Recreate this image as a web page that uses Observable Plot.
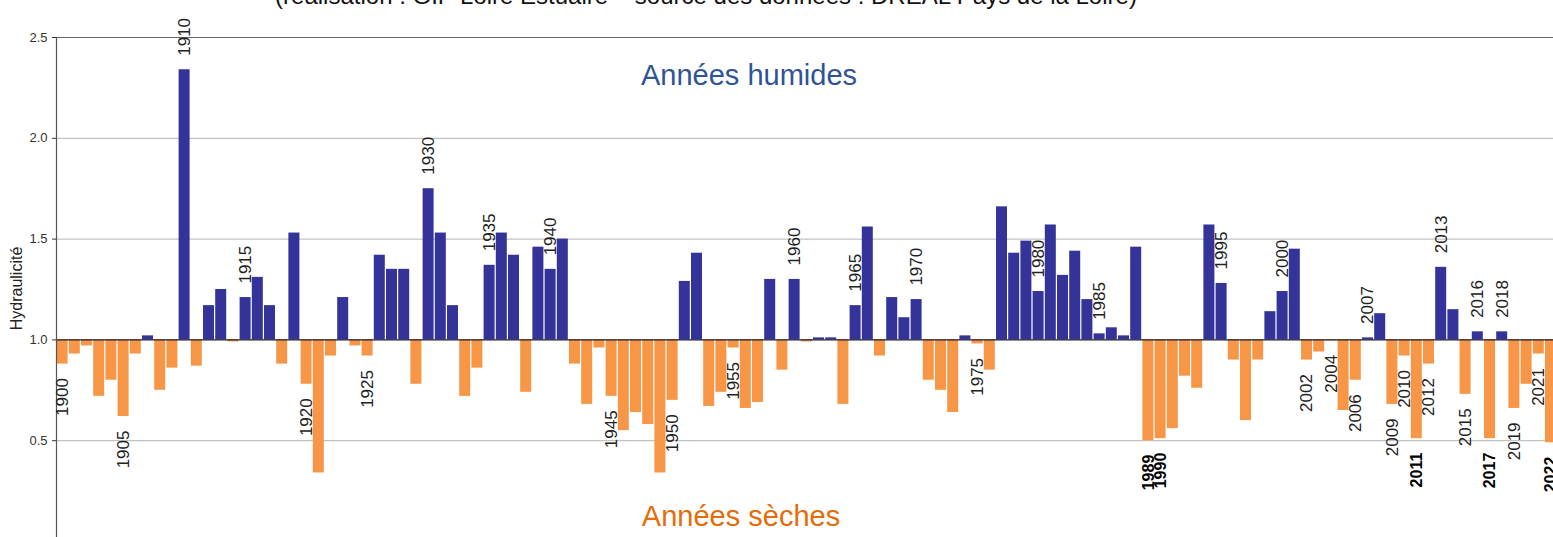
<!DOCTYPE html>
<html>
<head>
<meta charset="utf-8">
<script src="https://cdn.jsdelivr.net/npm/d3@7"></script>
<script src="https://cdn.jsdelivr.net/npm/@observablehq/plot@0.6"></script>
<style>
  html, body { margin: 0; padding: 0; background: #fff; overflow: hidden; }
  #wrap { position: relative; width: 1553px; height: 537px; overflow: hidden; background: #fff; }
  #chart { position: absolute; left: 0; top: 0; }
  #title { position: absolute; left: 0; top: -16px; width: 1412px; text-align: center;
           font: 24px "Liberation Sans", Arial, sans-serif; line-height: 24px; color: #111; white-space: nowrap; }
</style>
</head>
<body>
<div id="wrap">
  <div id="chart"></div>
  <div id="title">(réalisation : GIP Loire Estuaire – source des données : DREAL Pays de la Loire)</div>
</div>
<script>
// ---- data ----
const startYear = 1900;
const hydraulicite = [
  0.88, 0.93, 0.97, 0.72, 0.80, 0.62, 0.93, 1.02, 0.75, 0.86,   // 1900s
  2.34, 0.87, 1.17, 1.25, 0.99, 1.21, 1.31, 1.17, 0.88, 1.53,   // 1910s
  0.78, 0.34, 0.92, 1.21, 0.97, 0.92, 1.42, 1.35, 1.35, 0.78,   // 1920s
  1.75, 1.53, 1.17, 0.72, 0.86, 1.37, 1.53, 1.42, 0.74, 1.46,   // 1930s
  1.35, 1.50, 0.88, 0.68, 0.96, 0.72, 0.55, 0.64, 0.58, 0.34,   // 1940s
  0.70, 1.29, 1.43, 0.67, 0.74, 0.96, 0.66, 0.69, 1.30, 0.85,   // 1950s
  1.30, 0.99, 1.01, 1.01, 0.68, 1.17, 1.56, 0.92, 1.21, 1.11,   // 1960s
  1.20, 0.80, 0.75, 0.64, 1.02, 0.98, 0.85, 1.66, 1.43, 1.49,   // 1970s
  1.24, 1.57, 1.32, 1.44, 1.20, 1.03, 1.06, 1.02, 1.46, 0.50,   // 1980s
  0.51, 0.56, 0.82, 0.76, 1.57, 1.28, 0.90, 0.60, 0.90, 1.14,   // 1990s
  1.24, 1.45, 0.90, 0.94, 0.995, 0.65, 0.80, 1.01, 1.13, 0.68,  // 2000s
  0.92, 0.51, 0.88, 1.36, 1.15, 0.73, 1.04, 0.51, 1.04, 0.66,   // 2010s
  0.78, 0.93, 0.49                                              // 2020s
];
const labeledYears = [1900, 1905, 1910, 1915, 1920, 1925, 1930, 1935, 1940, 1945, 1950, 1955,
  1960, 1965, 1970, 1975, 1980, 1985, 1989, 1990, 1995, 2000, 2002, 2004, 2006, 2007, 2009,
  2010, 2011, 2012, 2013, 2015, 2016, 2017, 2018, 2019, 2021, 2022];
const boldYears = [1989, 1990, 2011, 2017, 2022];
const yTicks = [0, 0.5, 1, 1.5, 2, 2.5];
const baseline = 1;
const yLabel = "Hydraulicité";
const wetLabel = "Années humides";
const dryLabel = "Années sèches";

// ---- table built from the arrays ----
const rows = hydraulicite.map((v, i) => ({year: startYear + i, value: v}));
const endYear = startYear + hydraulicite.length - 1;
const wet = rows.filter(d => d.value >= baseline);
const dry = rows.filter(d => d.value < baseline);
const lab = rows.filter(d => labeledYears.includes(d.year));
const labUp = lab.filter(d => d.value >= baseline);
const labDown = lab.filter(d => d.value < baseline && !boldYears.includes(d.year));
const labBold = lab.filter(d => d.value < baseline && boldYears.includes(d.year));

const BLUE = "#333399", ORANGE = "#f79646";
const narrow = "'Liberation Sans Narrow', 'Arial Narrow', 'Liberation Sans', Arial, sans-serif";

const chart = Plot.plot({
  width: 1553,
  height: 537,
  marginLeft: 56, marginRight: 0, marginTop: 37, marginBottom: 0,
  style: {fontFamily: "'Liberation Sans', Arial, sans-serif", background: "white", overflow: "visible"},
  x: {type: "linear", domain: [startYear - 0.5, endYear + 0.5], range: [56, 56 + 12.2 * hydraulicite.length], axis: null},
  y: {domain: [0, 2.5], range: [541, 37], axis: null},
  marks: [
    Plot.ruleY([0.5, 1.5, 2], {stroke: "#b4b4b4", strokeWidth: 1}),
    Plot.ruleY([2.5], {stroke: "#666", strokeWidth: 1.2}),
    Plot.rectY(wet, {x1: d => d.year - 0.5, x2: d => d.year + 0.5, y1: baseline, y2: "value",
      fill: BLUE, insetLeft: 0.6, insetRight: 0.6}),
    Plot.rectY(dry, {x1: d => d.year - 0.5, x2: d => d.year + 0.5, y1: baseline, y2: "value",
      fill: ORANGE, insetLeft: 0.6, insetRight: 0.6}),
    Plot.ruleY([baseline], {stroke: "#1a1a2a", strokeWidth: 1.2}),
    Plot.ruleX([startYear - 0.5], {y1: 0, y2: 2.5, stroke: "#555", strokeWidth: 1.2}),
    Plot.axisY({ticks: yTicks, tickFormat: d => d.toFixed(1), tickSize: 4, tickPadding: 5,
      fontSize: 13, fontFamily: narrow, color: "#333", label: null}),
    Plot.text([yLabel], {frameAnchor: "left", text: d => d, rotate: -90, textAnchor: "middle",
      dx: -40, dy: 1, fontSize: 16, fill: "#222"}),
    Plot.text([wetLabel], {frameAnchor: "top", text: d => d, textAnchor: "middle", dx: -56, dy: 27,
      fontSize: 29, fill: "#2f5496"}),
    Plot.text([dryLabel], {frameAnchor: "bottom", text: d => d, textAnchor: "middle", dx: -64, dy: -12,
      fontSize: 29, fill: "#e46c0a"}),
    Plot.text(labUp, {x: "year", y: "value", text: d => String(d.year), rotate: -90,
      textAnchor: "start", dy: -14, fontSize: 17, fill: "#222"}),
    Plot.text(labDown, {x: "year", y: "value", text: d => String(d.year), rotate: -90,
      textAnchor: "end", dy: 14, fontSize: 17, fill: "#222"}),
    Plot.text(labBold, {x: "year", y: "value", text: d => String(d.year), rotate: -90,
      textAnchor: "end", dy: 14, fontSize: 16, fontWeight: "bold", fill: "#000"})
  ]
});
document.getElementById("chart").appendChild(chart);
</script>
</body>
</html>
